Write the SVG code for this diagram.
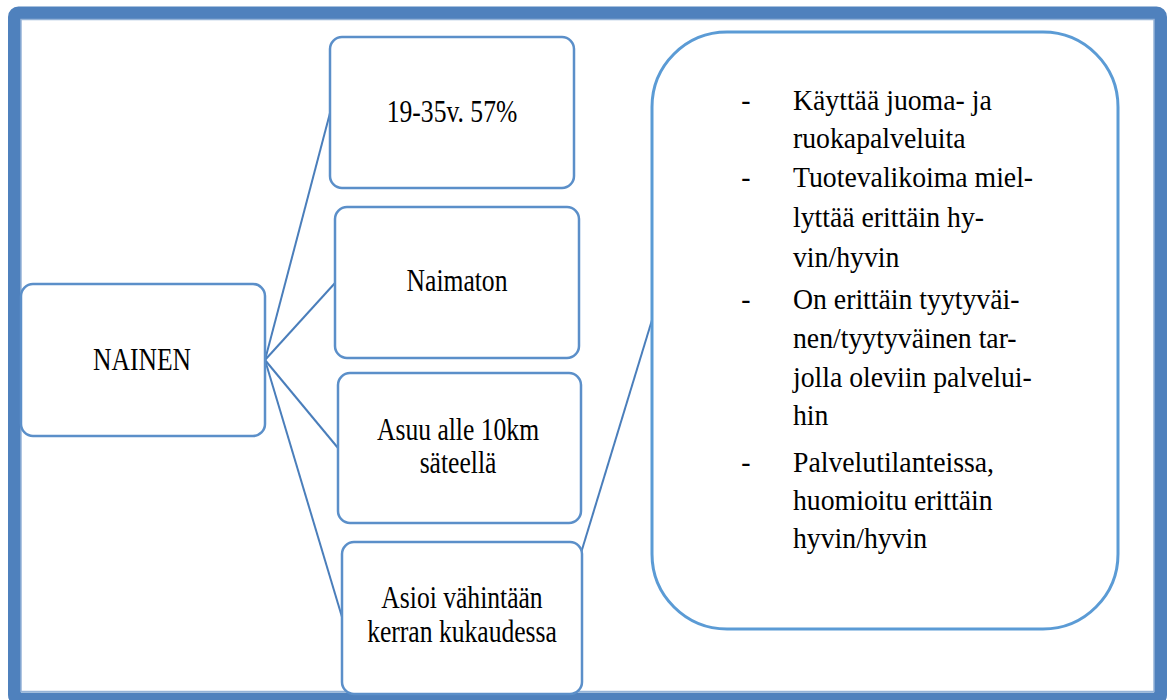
<svg xmlns="http://www.w3.org/2000/svg" width="1168" height="700" viewBox="0 0 1168 700">
<style>
.frame{fill:none;stroke:#4f81bd;stroke-width:13}
.frameIn{fill:none;stroke:#95b3d7;stroke-width:1.5}
.box{fill:#ffffff;stroke:#5b8fc9;stroke-width:2.5}
.big{fill:#ffffff;stroke:#5b9bd5;stroke-width:3}
.lbl{font-family:'Liberation Serif','Liberation Sans',sans-serif;font-size:32px;fill:#000;text-anchor:middle}
.lst{font-family:'Liberation Serif','Liberation Sans',sans-serif;font-size:30.5px;fill:#000}
.conn line{stroke:#4a7ebb;stroke-width:2}
</style>
<rect x="0" y="0" width="1168" height="700" fill="#ffffff"/>
<rect class="frame" x="14.5" y="13" width="1146" height="686" rx="4"/>
<rect class="frameIn" x="21" y="19.5" width="1133" height="672"/>
<g id="connectors" class="conn">
<line x1="265" y1="360" x2="330" y2="113"/>
<line x1="265" y1="360" x2="335" y2="283"/>
<line x1="265" y1="360" x2="338" y2="448"/>
<line x1="265" y1="360" x2="342" y2="617"/>
<line x1="581" y1="553" x2="652" y2="320"/>
</g>
<g id="nainen">
<rect class="box" x="21" y="284" width="244" height="152" rx="12"/>
<text class="lbl" transform="translate(142,370) scale(0.8,1)">NAINEN</text>
</g>
<g id="ika">
<rect class="box" x="330" y="37" width="244" height="151" rx="12"/>
<text class="lbl" transform="translate(452,122) scale(0.8,1)">19-35v. 57%</text>
</g>
<g id="naimaton">
<rect class="box" x="335" y="207" width="244" height="151" rx="12"/>
<text class="lbl" transform="translate(457,291) scale(0.8,1)">Naimaton</text>
</g>
<g id="asuu">
<rect class="box" x="338" y="373" width="243" height="150" rx="12"/>
<text class="lbl" transform="translate(458,440) scale(0.8,1)">Asuu alle 10km</text>
<text class="lbl" transform="translate(458,473) scale(0.8,1)">säteellä</text>
</g>
<g id="asioi">
<rect class="box" x="342" y="542" width="240" height="152" rx="12"/>
<text class="lbl" transform="translate(462,608) scale(0.8,1)">Asioi vähintään</text>
<text class="lbl" transform="translate(462,642) scale(0.8,1)">kerran kukaudessa</text>
</g>
<g id="profiili">
<rect class="big" x="652" y="32" width="466" height="597" rx="75"/>
<g class="lst" transform="translate(793,0) scale(0.91,1)">
<text x="-57" y="110">-</text><text x="0" y="110">Käyttää juoma- ja</text>
<text x="0" y="148">ruokapalveluita</text>
<text x="-57" y="187">-</text><text x="0" y="187">Tuotevalikoima miel-</text>
<text x="0" y="227">lyttää erittäin hy-</text>
<text x="0" y="267">vin/hyvin</text>
<text x="-57" y="309">-</text><text x="0" y="309">On erittäin tyytyväi-</text>
<text x="0" y="348">nen/tyytyväinen tar-</text>
<text x="0" y="387">jolla oleviin palvelui-</text>
<text x="0" y="425">hin</text>
<text x="-57" y="472">-</text><text x="0" y="472">Palvelutilanteissa,</text>
<text x="0" y="510">huomioitu erittäin</text>
<text x="0" y="548">hyvin/hyvin</text>
</g>
</g>
</svg>
